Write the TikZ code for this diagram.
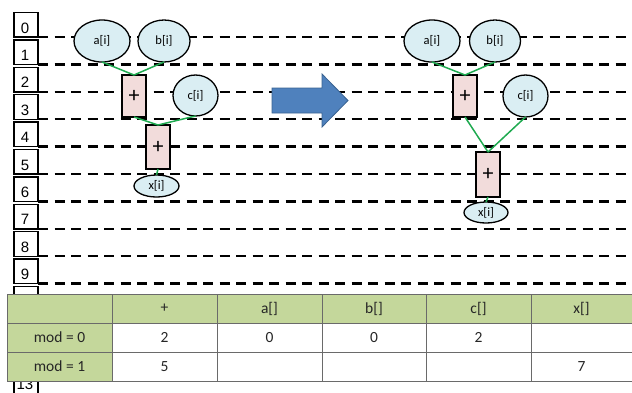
\documentclass[tikz,border=0pt]{standalone}
\usepackage{fontspec}
\setmainfont{Carlito}
\newfontfamily\arialf{Liberation Sans}
\usetikzlibrary{shapes.geometric}
\definecolor{nodeblue}{HTML}{DAEEF3}
\definecolor{nodepink}{HTML}{F2DCDB}
\definecolor{linkgreen}{HTML}{1FAA50}
\definecolor{tabgreen}{HTML}{C4D79B}
\definecolor{tabline}{HTML}{6A6A6A}
\definecolor{arrowblue}{HTML}{4F81BD}
\definecolor{arrowedge}{HTML}{3A6391}
\begin{document}
\begin{tikzpicture}[x=1pt,y=-1pt,
  numbox/.style={draw=black, line width=1.4pt, fill=white, minimum width=24pt, minimum height=24.5pt, inner sep=0pt, outer sep=0pt},
  numtext/.style={font=\arialf\fontsize{15}{15}\selectfont, inner sep=0pt, anchor=base},
  dashline/.style={line width=2.5pt, dash pattern=on 10pt off 6.5pt, black},
  val/.style={ellipse, draw=black, line width=1.3pt, fill=nodeblue, inner sep=0pt, outer sep=0pt, font=\fontsize{12.5}{12.5}\selectfont},
  opbox/.style={rectangle, draw=black, line width=1.3pt, fill=nodepink, minimum width=24pt, minimum height=42pt, inner sep=0pt, outer sep=0pt, font=\fontsize{22}{22}\selectfont},
  link/.style={linkgreen, line width=1.5pt},
  cell/.style={font=\fontsize{15.5}{15.5}\selectfont, inner sep=0pt, text=black!85}
]
\useasboundingbox (0,0) rectangle (632,392);
% number boxes
\foreach \k in {0,...,10,13} {
  \pgfmathsetmacro{\ly}{37+27.4*\k}
  \node[numbox] (nb\k) at (26,\ly-12.25) {};
  \node[numtext] (nt\k) at (25,\ly-4) {\k};
}
% dashed lines
\foreach \k in {0,...,10} {
  \pgfmathsetmacro{\ly}{37+27.4*\k}
  \draw[dashline] (38,\ly) -- (632,\ly);
}
% table
\fill[tabgreen] (7,294) rectangle (632,323);
\fill[tabgreen] (7,294) rectangle (112,381);
\fill[white] (112,323) rectangle (632,381);
\draw[tabline, line width=1pt] (7,294) rectangle (632,381);
\foreach \yy in {323,352} \draw[tabline, line width=1pt] (7,\yy) -- (632,\yy);
\foreach \xx in {112,217,322,426,531} \draw[tabline, line width=1pt] (\xx,294) -- (\xx,381);
\node[cell] (h1) at (164.5,308.5) {+};
\node[cell] (h2) at (269.5,308.5) {a[]};
\node[cell] (h3) at (374,308.5) {b[]};
\node[cell] (h4) at (478.5,308.5) {c[]};
\node[cell] (h5) at (581.5,308.5) {x[]};
\node[cell] (r1) at (59.5,337.5) {mod = 0};
\node[cell] (r2) at (59.5,366.5) {mod = 1};
\node[cell] (c11) at (164.5,337.5) {2};
\node[cell] (c12) at (269.5,337.5) {0};
\node[cell] (c13) at (374,337.5) {0};
\node[cell] (c14) at (478.5,337.5) {2};
\node[cell] (c21) at (164.5,366.5) {5};
\node[cell] (c25) at (581.5,366.5) {7};
% left graph
\node[val, minimum width=56pt, minimum height=42pt] (la) at (102,41) {a[i]};
\node[val, minimum width=52pt, minimum height=42pt] (lb) at (164,41) {b[i]};
\node[opbox] (lp1) at (134,96) {+};
\node[val, minimum width=45pt, minimum height=41pt] (lc) at (195.5,95.5) {c[i]};
\node[opbox, minimum height=44pt] (lp2) at (158,147) {+};
\node[val, minimum width=45pt, minimum height=22pt] (lx) at (156.5,186) {x[i]};
\draw[link] (la.south) -- (lp1.north);
\draw[link] (lb.south) -- (lp1.north);
\draw[link] (lp1.south) -- (lp2.north);
\draw[link] (lc.south) -- (lp2.north);
\draw[link] (lp2.south) -- (lx.north);
% arrow
\draw[fill=arrowblue, draw=arrowedge, line width=0.8pt] (272,88) -- (322,88) -- (322,74) -- (348,100.5) -- (322,127) -- (322,113) -- (272,113) -- cycle;
% right graph
\node[val, minimum width=56pt, minimum height=42pt] (ra) at (432,41) {a[i]};
\node[val, minimum width=51pt, minimum height=42pt] (rb) at (495,41) {b[i]};
\node[opbox] (rp1) at (465,96) {+};
\node[val, minimum width=45pt, minimum height=42pt] (rc) at (525.5,96) {c[i]};
\node[opbox, minimum height=45pt] (rp2) at (488,174.5) {+};
\node[val, minimum width=44pt, minimum height=21pt] (rx) at (486,212.5) {x[i]};
\draw[link] (ra.south) -- (rp1.north);
\draw[link] (rb.south) -- (rp1.north);
\draw[link] (rp1.south) -- (rp2.north);
\draw[link] (rc.south) -- (rp2.north);
\draw[link] (rp2.south) -- (rx.north);
\end{tikzpicture}
\end{document}
